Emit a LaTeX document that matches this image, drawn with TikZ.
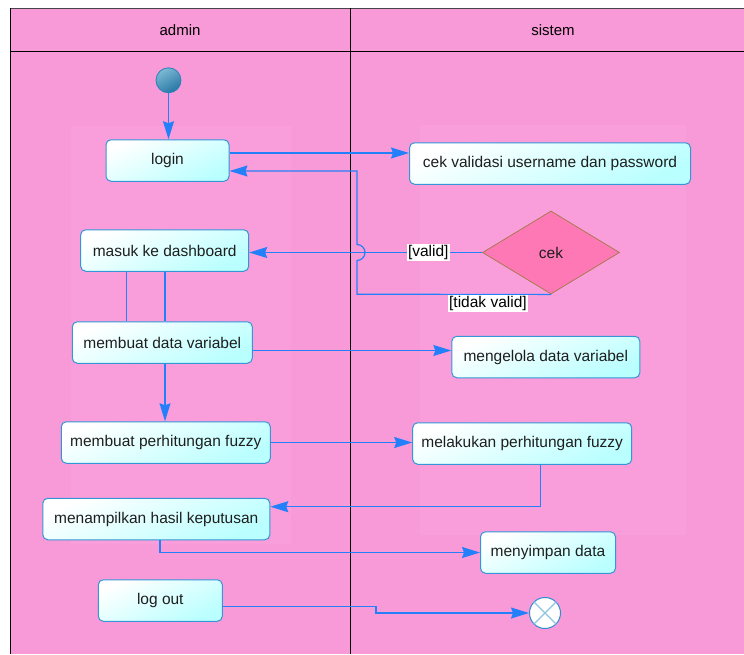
\documentclass[tikz,border=0pt]{standalone}
\usepackage{fontspec}
\setmainfont{Liberation Sans}
\usetikzlibrary{arrows.meta,shapes.geometric,calc}

\definecolor{lanebg}{RGB}{248,154,216}
\definecolor{lanehl}{RGB}{249,158,218}
\definecolor{framegray}{RGB}{70,70,70}
\definecolor{flowblue}{RGB}{36,128,250}
\definecolor{actedge}{RGB}{52,150,215}
\definecolor{actfill}{RGB}{185,255,255}
\definecolor{acttext}{RGB}{30,30,30}
\definecolor{decfill}{RGB}{255,120,182}
\definecolor{decedge}{RGB}{170,120,80}
\definecolor{inittop}{RGB}{125,185,212}
\definecolor{initbot}{RGB}{38,118,165}
\definecolor{initedge}{RGB}{40,130,185}
\definecolor{finedge}{RGB}{45,140,210}
\definecolor{fincross}{RGB}{140,195,225}

\newcommand{\actfont}{\fontsize{15.5}{18}\selectfont}
\newcommand{\hdrfont}{\fontsize{15}{18}\selectfont}

\begin{document}
\begin{tikzpicture}[x=1pt,y=-1pt,
  act/.style={draw=actedge, line width=1pt, rounded corners=5pt,
    top color=white, bottom color=actfill, shading angle=25,
    minimum height=41.5pt, inner sep=0pt, font=\actfont, text=acttext},
  dec/.style={diamond, draw=decedge, fill=decfill, line width=0.8pt,
    minimum width=137pt, minimum height=83pt, inner sep=0pt,
    font=\actfont, text=acttext},
  hdr/.style={font=\hdrfont, text=black, inner sep=0pt},
  flow/.style={draw=flowblue, line width=1.2pt,
    -{Stealth[length=18pt,width=11pt,inset=2pt]}},
  plain/.style={draw=flowblue, line width=1.2pt},
  lbl/.style={fill=white, inner sep=1pt, font=\actfont, text=black},
  lane/.style={draw=black, line width=1pt}]

\useasboundingbox (0,0) rectangle (744,654);

% swimlane background and partition highlights
\fill[lanebg] (10,8) rectangle (744,654);
\fill[lanehl] (71,126) rectangle (291,544);
\fill[lanehl] (420,125) rectangle (686,535);

% lane frame
\draw[lane, draw=framegray] (10,8) -- (744,8);
\draw[lane] (10,51) -- (744,51);
\draw[lane] (10,8) -- (10,654);
\draw[lane] (350,8) -- (350,654);

\node[hdr] (laneA) at (180,30) {admin};
\node[hdr] (laneB) at (553,30) {sistem};

% initial and final nodes
\node[circle, minimum size=25pt, inner sep=0pt, draw=initedge, line width=0.8pt,
  top color=inittop, bottom color=initbot, shading angle=30] (init) at (168.5,80.3) {};
\node[circle, minimum size=31pt, inner sep=0pt, draw=finedge, line width=1pt,
  fill=white] (fin) at (545,613) {};
\draw[fincross, line width=1.2pt] (fin.north west) -- (fin.south east)
  (fin.north east) -- (fin.south west);

% actions
\node[act, minimum width=123pt] (login) at (167.5,160.5) {login};
\node[act, minimum width=281pt] (val) at (550,163.5) {cek validasi username dan password};
\node[dec] (cek) at (551,252.5) {cek};
\node[act, minimum width=168pt] (dash) at (164.7,250.5) {masuk ke dashboard};
\node[act, minimum width=180pt] (var) at (162.3,342.5) {membuat data variabel};
\node[act, minimum width=188pt] (kelola) at (545.8,357) {mengelola data variabel};
\node[act, minimum width=209pt] (per) at (165.8,442.5) {membuat perhitungan fuzzy};
\node[act, minimum width=219pt] (laku) at (522.2,443.5) {melakukan perhitungan fuzzy};
\node[act, minimum width=227pt] (hasil) at (156.3,519) {menampilkan hasil keputusan};
\node[act, minimum width=135pt] (simpan) at (548,552.5) {menyimpan data};
\node[act, minimum width=124pt] (logout) at (160.3,600.5) {log out};

% flows
\draw[flow] (init) -- (init |- login.north);
\draw[flow] ([yshift=7.5pt]login.east) -- ([yshift=7.5pt]login.east -| val.west);

% [valid] branch
\draw[flow] (cek.west) -- node[lbl, pos=0.231] {[valid]} (cek.west -| dash.east);

% [tidak valid] branch back to login, hopping over the [valid] flow
\coordinate (rback) at (357,294.3);
\coordinate (hop) at (rback |- cek.west);
\draw[flow] (cek.south) -- node[lbl, below, pos=0.325, yshift=-0.5pt] {[tidak valid]} (rback)
  -- ([yshift=-8pt]hop) arc[start angle=-90, end angle=90, radius=8pt]
  -- (rback |- 0,171) -- ([yshift=-10.5pt]login.east);

\draw[plain] ([xshift=-38pt]dash.south) -- ([xshift=-38pt]dash.south |- var.north);
\draw[plain] ([xshift=0.3pt]dash.south) -- ([xshift=0.3pt]dash.south |- var.north);

\draw[flow] ([yshift=-8pt]var.east) -- ([yshift=-8pt]var.east -| kelola.west);
\draw[flow] ([xshift=2.7pt]var.south) -- ([xshift=2.7pt]var.south |- per.north);
\draw[flow] (per.east) -- (per.east -| laku.west);
\draw[flow] ([xshift=18.5pt]laku.south) |- ([yshift=12.3pt]hasil.east);
\draw[flow] ([xshift=3.7pt]hasil.south) |- (simpan.west);

\coordinate (obend) at (376,606.5);
\draw[flow] ([yshift=-6pt]logout.east) -- (obend) -- (obend |- fin.west) -- (fin.west);

\end{tikzpicture}
\end{document}
